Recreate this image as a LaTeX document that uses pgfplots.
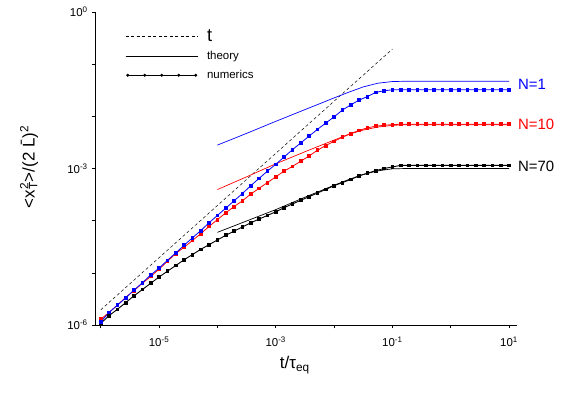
\documentclass[border=0pt]{standalone}
\usepackage{pgfplots}
\pgfplotsset{compat=1.18}
\usepackage{graphicx}
\usepackage{fontspec}
\setmainfont{Liberation Sans}
\pgfplotsset{
  leglong/.style={legend image code/.code={\draw[##1] (0bp,0bp) -- (72bp,0bp); \path (79bp,0bp);}},
  legdots/.style={legend image code/.code={\draw[##1] plot[mark=*, mark size=1.2bp] coordinates {(2bp,0bp) (19bp,0bp) (36bp,0bp) (53bp,0bp) (70bp,0bp)}; \path (78bp,0bp);}},
}
\begin{document}
\begin{tikzpicture}
\path[use as bounding box] (-95.7bp,-71bp) rectangle (471.3bp,325bp);
\begin{axis}[
  scale only axis, width=421bp, height=313bp,
  xmode=log, ymode=log,
  xmin=8.2e-7, xmax=13.5, ymin=1e-6, ymax=1,
  axis x line*=bottom, axis y line*=left,
  axis line style={black, line width=0.7pt},
  clip=false,
  tick align=outside,
  major tick length=3.5bp, minor tick length=3.5bp,
  every tick/.style={black, line width=0.6pt},
  xtick={1e-5,1e-3,1e-1,10},
  xticklabels={10\textsuperscript{-5},10\textsuperscript{-3},10\textsuperscript{-1},10\textsuperscript{1}},
  minor xtick={1e-6,1e-4,1e-2,1},
  ytick={1e-6,1e-3,1},
  yticklabels={10\textsuperscript{-6},10\textsuperscript{-3},10\textsuperscript{0}},
  minor ytick={1e-5,1e-4,1e-2,1e-1},
  ticklabel style={font=\fontsize{11.5}{13}\selectfont},
  xticklabel style={yshift=-5bp},
  yticklabel style={xshift=-1bp},
  xlabel={t/τ\textsubscript{eq}},
  xlabel style={at={(axis description cs:0.473,-0.128)}, anchor=center, font=\fontsize{17}{19}\selectfont},
  ylabel={<x\rlap{\textsuperscript{2}}\textsubscript{T}>/(2 \=L)\textsuperscript{2}},
  ylabel style={at={(axis description cs:-0.158,0.505)}, anchor=center, font=\fontsize{17}{19}\selectfont},
  legend style={at={(axis description cs:0.07,0.952)}, anchor=north west, draw=none, fill=none,
    font=\fontsize{11.5}{13}\selectfont, row sep=5bp, inner sep=0pt},
  legend cell align=left,
]
\addlegendimage{black, line width=0.5pt, dash pattern=on 3bp off 2.5bp, leglong}
\addlegendentry{\scalebox{1.6}{t}}
\addlegendimage{black, line width=0.7pt, leglong}
\addlegendentry{theory}
\addlegendimage{black, line width=0.7pt, legdots}
\addlegendentry{numerics}

% t line
\addplot[forget plot, black, line width=0.5pt, dash pattern=on 3bp off 2.5bp] coordinates {(1e-6,1.95e-6) (1e-1,0.195)};

% theory lines
\addplot[forget plot, blue, line width=0.7pt] coordinates {
(1e-4,2.812e-3) (3.162e-4,4.71e-3) (1e-3,8.02e-3) (3.162e-3,1.343e-2) (1e-2,2.254e-2)
(1.778e-2,2.897e-2) (3.162e-2,3.664e-2) (5.623e-2,4.315e-2) (1e-1,4.645e-2) (1.778e-1,4.71e-2)
(3.162e-1,4.71e-2) (1,4.71e-2) (10,4.71e-2)};
\addplot[forget plot, red, line width=0.7pt] coordinates {
(1e-4,3.945e-4) (3.162e-4,6.918e-4) (1e-3,1.230e-3) (3.162e-3,2.094e-3) (1e-2,3.508e-3)
(1.778e-2,4.508e-3) (3.162e-2,5.458e-3) (5.623e-2,6.237e-3) (1e-1,6.714e-3) (1.778e-1,6.918e-3)
(3.162e-1,6.918e-3) (1,6.918e-3) (10,6.918e-3)};
\addplot[forget plot, black, line width=0.7pt] coordinates {
(1e-4,5.970e-5) (3.162e-4,9.86e-5) (1e-3,1.629e-4) (3.162e-3,2.812e-4) (1e-2,4.775e-4)
(1.778e-2,6.138e-4) (3.162e-2,7.674e-4) (5.623e-2,9.016e-4) (1e-1,9.863e-4) (1.778e-1,1e-3)
(3.162e-1,1e-3) (1,1e-3) (10,1e-3)};

% numerics N=70
\addplot[forget plot, black, line width=0.9pt, mark=square*, mark size=1.4bp] coordinates {
(1e-6,1.072e-6) (1.3895e-6,1.514e-6) (1.9307e-6,1.995e-6) (2.6827e-6,2.692e-6) (3.7276e-6,3.631e-6) (5.1795e-6,4.786e-6) (7.1969e-6,6.310e-6)
(1e-5,8.318e-6) (1.3895e-5,1.072e-5) (1.9307e-5,1.380e-5) (2.6827e-5,1.778e-5) (3.7276e-5,2.239e-5) (5.1795e-5,2.818e-5) (7.1969e-5,3.467e-5)
(1e-4,4.266e-5) (1.3895e-4,5.248e-5) (1.9307e-4,6.310e-5) (2.6827e-4,7.586e-5) (3.7276e-4,9.120e-5) (5.1795e-4,1.072e-4) (7.1969e-4,1.259e-4)
(1e-3,1.479e-4) (1.3895e-3,1.778e-4) (1.9307e-3,2.089e-4) (2.6827e-3,2.455e-4) (3.7276e-3,2.884e-4) (5.1795e-3,3.388e-4) (7.1969e-3,3.981e-4)
(1e-2,4.677e-4) (1.3895e-2,5.370e-4) (1.9307e-2,6.166e-4) (2.6827e-2,7.244e-4) (3.7276e-2,8.128e-4) (5.1795e-2,9.120e-4) (7.1969e-2,1.000e-3)
(1e-1,1.072e-3) (1.3895e-1,1.148e-3) (1.9307e-1,1.148e-3) (2.6827e-1,1.148e-3) (3.7276e-1,1.148e-3) (5.1795e-1,1.148e-3) (7.1969e-1,1.148e-3)
(1,1.148e-3) (1.3895,1.148e-3) (1.9307,1.148e-3) (2.6827,1.148e-3) (3.7276,1.148e-3) (5.1795,1.148e-3) (7.1969,1.148e-3) (10,1.148e-3)};

% numerics N=10
\addplot[forget plot, red, line width=0.8pt, mark=square*, mark size=1.4bp] coordinates {
(1e-6,1.288e-6) (1.3895e-6,1.738e-6) (1.9307e-6,2.399e-6) (2.6827e-6,3.388e-6) (3.7276e-6,4.571e-6) (5.1795e-6,6.310e-6) (7.1969e-6,8.511e-6)
(1e-5,1.175e-5) (1.3895e-5,1.660e-5) (1.9307e-5,2.344e-5) (2.6827e-5,3.090e-5) (3.7276e-5,4.169e-5) (5.1795e-5,5.623e-5) (7.1969e-5,7.762e-5)
(1e-4,1.047e-4) (1.3895e-4,1.413e-4) (1.9307e-4,1.862e-4) (2.6827e-4,2.399e-4) (3.7276e-4,3.236e-4) (5.1795e-4,4.169e-4) (7.1969e-4,5.370e-4)
(1e-3,6.918e-4) (1.3895e-3,8.913e-4) (1.9307e-3,1.096e-3) (2.6827e-3,1.380e-3) (3.7276e-3,1.738e-3) (5.1795e-3,2.239e-3) (7.1969e-3,2.754e-3)
(1e-2,3.311e-3) (1.3895e-2,3.981e-3) (1.9307e-2,4.677e-3) (2.6827e-2,5.370e-3) (3.7276e-2,6.026e-3) (5.1795e-2,6.457e-3) (7.1969e-2,6.761e-3)
(1e-1,6.918e-3) (1.3895e-1,7.079e-3) (1.9307e-1,7.079e-3) (2.6827e-1,7.079e-3) (3.7276e-1,7.079e-3) (5.1795e-1,7.079e-3) (7.1969e-1,7.079e-3)
(1,7.079e-3) (1.3895,7.079e-3) (1.9307,7.079e-3) (2.6827,7.079e-3) (3.7276,7.079e-3) (5.1795,7.079e-3) (7.1969,7.079e-3) (10,7.079e-3)};

% numerics N=1
\addplot[forget plot, blue, line width=0.8pt, mark=square*, mark size=1.4bp] coordinates {
(1e-6,1.148e-6) (1.3895e-6,1.738e-6) (1.9307e-6,2.399e-6) (2.6827e-6,3.311e-6) (3.7276e-6,4.677e-6) (5.1795e-6,6.457e-6) (7.1969e-6,9.120e-6)
(1e-5,1.230e-5) (1.3895e-5,1.738e-5) (1.9307e-5,2.399e-5) (2.6827e-5,3.388e-5) (3.7276e-5,4.677e-5) (5.1795e-5,6.457e-5) (7.1969e-5,9.120e-5)
(1e-4,1.259e-4) (1.3895e-4,1.738e-4) (1.9307e-4,2.399e-4) (2.6827e-4,3.311e-4) (3.7276e-4,4.677e-4) (5.1795e-4,6.457e-4) (7.1969e-4,8.913e-4)
(1e-3,1.202e-3) (1.3895e-3,1.660e-3) (1.9307e-3,2.291e-3) (2.6827e-3,3.090e-3) (3.7276e-3,4.169e-3) (5.1795e-3,5.623e-3) (7.1969e-3,7.413e-3)
(1e-2,9.772e-3) (1.3895e-2,1.318e-2) (1.9307e-2,1.660e-2) (2.6827e-2,2.042e-2) (3.7276e-2,2.399e-2) (5.1795e-2,2.884e-2) (7.1969e-2,3.090e-2)
(1e-1,3.236e-2) (1.3895e-1,3.236e-2) (1.9307e-1,3.236e-2) (2.6827e-1,3.236e-2) (3.7276e-1,3.236e-2) (5.1795e-1,3.236e-2) (7.1969e-1,3.236e-2)
(1,3.236e-2) (1.3895,3.236e-2) (1.9307,3.236e-2) (2.6827,3.236e-2) (3.7276,3.236e-2) (5.1795,3.236e-2) (7.1969,3.236e-2) (10,3.236e-2)};

\node[anchor=west, text=blue, font=\fontsize{15}{15}\selectfont, inner sep=1bp] at (axis cs:13.6,4.12e-2) {N=1};
\node[anchor=west, text=red, font=\fontsize{15}{15}\selectfont, inner sep=1bp] at (axis cs:13.6,7.08e-3) {N=10};
\node[anchor=west, text=black, font=\fontsize{15}{15}\selectfont, inner sep=1bp] at (axis cs:13.6,1.096e-3) {N=70};
\end{axis}
\end{tikzpicture}
\end{document}
